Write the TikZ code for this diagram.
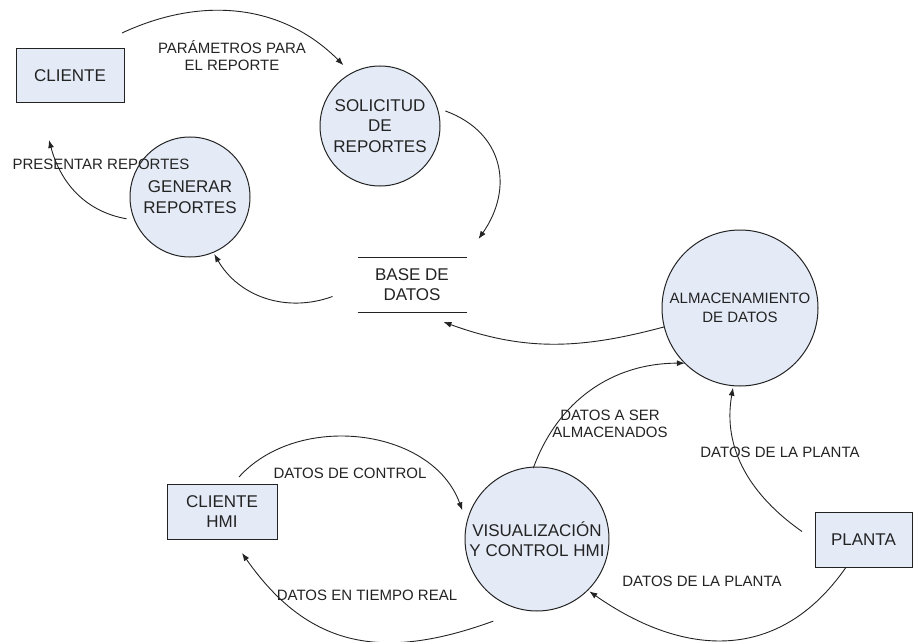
\documentclass[tikz,border=0pt]{standalone}
\usepackage{fontspec}
\setmainfont{Liberation Sans}
\usetikzlibrary{arrows.meta,calc}
\definecolor{bubble}{RGB}{228,235,247}
\definecolor{ink}{RGB}{35,35,35}
\begin{document}
\begin{tikzpicture}[x=1pt,y=1pt,
  proc/.style={circle,draw=ink,line width=1pt,fill=bubble,inner sep=0pt,outer sep=0pt,
    align=center,text=ink,font=\fontsize{17}{20.5}\selectfont},
  ext/.style={rectangle,draw=ink,line width=1pt,fill=bubble,inner sep=0pt,outer sep=0pt,
    align=center,text=ink,font=\fontsize{17}{20.5}\selectfont},
  store/.style={rectangle,inner sep=0pt,outer sep=0pt,align=center,text=ink,
    font=\fontsize{17}{20.5}\selectfont,minimum width=109pt,minimum height=55pt},
  flow/.style={draw=ink,line width=0.9pt,-{Latex[length=8pt,width=6pt]}},
  lbl/.style={align=center,text=ink,inner sep=0pt,font=\fontsize{15}{17.5}\selectfont}]
\path[use as bounding box] (0,0) rectangle (914,-642);

% external entities, processes and the data store
\node[ext,minimum width=108pt,minimum height=54pt] (cli) at (70,-76) {CLIENTE};
\node[proc,minimum size=120pt] (sol) at (380,-126) {SOLICITUD\\DE\\REPORTES};
\node[proc,minimum size=120pt] (gen) at (190,-197) {GENERAR\\REPORTES};
\node[store] (bd) at (412,-284.5) {BASE DE\\DATOS};
\draw[ink,line width=1pt] (bd.north west) -- (bd.north east) (bd.south west) -- (bd.south east);
\node[proc,minimum size=156pt,font=\fontsize{15}{19}\selectfont] (alm) at (740,-308) {ALMACENAMIENTO\\DE DATOS};
\node[proc,minimum size=144pt] (vis) at (537,-539) {VISUALIZACIÓN\\Y CONTROL HMI};
\node[ext,minimum width=110pt,minimum height=55pt] (hmi) at (222,-511.5) {CLIENTE\\HMI};
\node[ext,minimum width=97pt,minimum height=55pt] (pla) at (863.5,-539.5) {PLANTA};

% data flows
\draw[flow] ($(cli.north east)+(-2,16)$) to[out=25,in=135] ($(sol)+(121:71)$);
\draw[flow] ($(sol)+(13:67)$) to[out=-20,in=55,looseness=1.2] ($(bd.north east)+(12,18)$);
\draw[flow] ($(bd.west)+(-25,-12)$) to[out=200,in=-60] ($(gen)+(-67:62)$);
\draw[flow] ($(gen)+(199:67)$) to[out=170,in=-75] ($(cli.south)+(-21,-37)$);
\draw[flow] ($(alm)+(194:78)$) to[out=195,in=-20] ($(bd.south east)+(-23,-10)$);
\draw[flow] ($(vis)+(93:71)$) to[out=70,in=180] ($(alm)+(225:78)$);
\draw[flow] ($(pla.west)+(-13,8)$) to[out=145,in=-100] ($(alm)+(265:80)$);
\draw[flow] ($(pla.south)+(-18,-1)$) to[out=235,in=-35,looseness=1.15] ($(vis)+(-45:74)$);
\draw[flow] ($(hmi.north)+(17,7)$) to[out=48,in=110] ($(vis)+(159:80)$);
\draw[flow] ($(vis)+(242:93)$) to[out=200,in=-55,looseness=1.15] ($(hmi.south)+(20,-14)$);

% flow labels
\node[lbl] (l1) at (232,-55.5) {PARÁMETROS PARA\\EL REPORTE};
\node[lbl] (l2) at (101,-164) {PRESENTAR REPORTES};
\node[lbl] (l3) at (610,-424) {DATOS A SER\\ALMACENADOS};
\node[lbl] (l4) at (780,-452) {DATOS DE LA PLANTA};
\node[lbl] (l5) at (702,-581) {DATOS DE LA PLANTA};
\node[lbl] (l6) at (350,-473) {DATOS DE CONTROL};
\node[lbl] (l7) at (367,-595) {DATOS EN TIEMPO REAL};
\end{tikzpicture}
\end{document}
